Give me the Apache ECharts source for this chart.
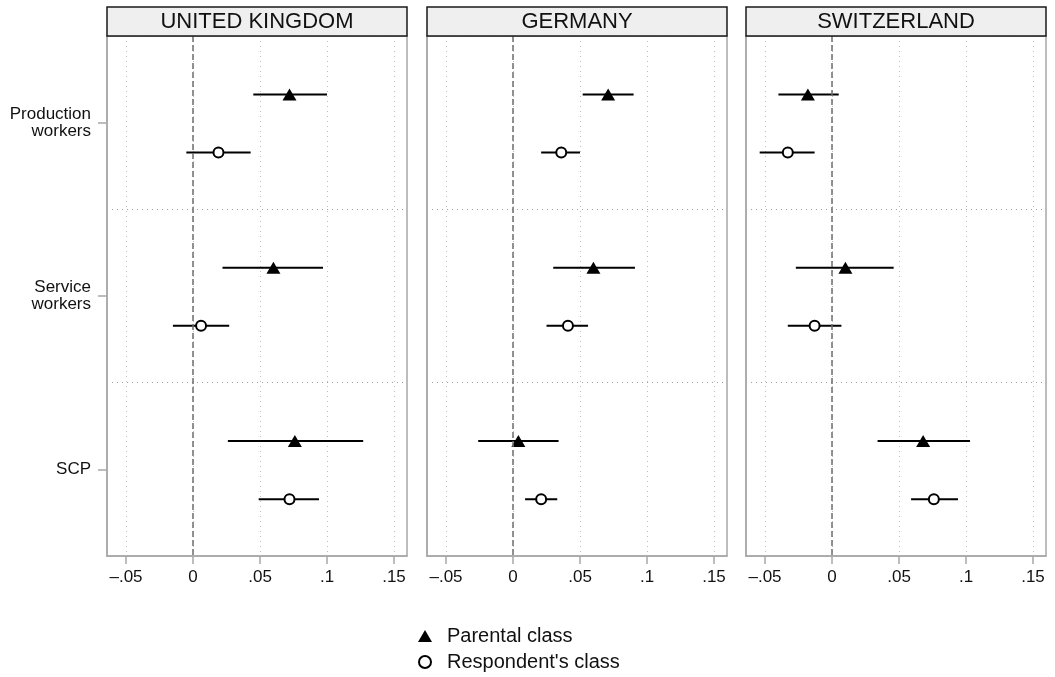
<!DOCTYPE html>
<html>
<head>
<meta charset="utf-8">
<script src="https://cdn.jsdelivr.net/npm/echarts@6/dist/echarts.min.js"></script>
<style>
html,body{margin:0;padding:0;background:#fff;}
#chart{width:1055px;height:677px;}
</style>
</head>
<body>
<div id="chart"></div>
<script>
// ---- data ----
const categories = ['Production\nworkers', 'Service\nworkers', 'SCP'];
const countries = ['UNITED KINGDOM', 'GERMANY', 'SWITZERLAND'];
const xTicks = [-0.05, 0, 0.05, 0.1, 0.15];
const xTickLabels = ['\u2013.05', '0', '.05', '.1', '.15'];
const legendNames = ['Parental class', "Respondent's class"];

const ukParental     = [0.072, 0.060, 0.076];
const ukParentalLo   = [0.045, 0.022, 0.026];
const ukParentalHi   = [0.100, 0.097, 0.127];
const ukRespondent   = [0.019, 0.006, 0.072];
const ukRespondentLo = [-0.005, -0.015, 0.049];
const ukRespondentHi = [0.043, 0.027, 0.094];

const deParental     = [0.071, 0.060, 0.004];
const deParentalLo   = [0.052, 0.030, -0.026];
const deParentalHi   = [0.090, 0.091, 0.034];
const deRespondent   = [0.036, 0.041, 0.021];
const deRespondentLo = [0.021, 0.025, 0.009];
const deRespondentHi = [0.050, 0.056, 0.033];

const chParental     = [-0.018, 0.010, 0.068];
const chParentalLo   = [-0.040, -0.027, 0.034];
const chParentalHi   = [0.005, 0.046, 0.103];
const chRespondent   = [-0.033, -0.013, 0.076];
const chRespondentLo = [-0.054, -0.033, 0.059];
const chRespondentHi = [-0.013, 0.007, 0.094];

const panels = [
  {p: ukParental, pLo: ukParentalLo, pHi: ukParentalHi, r: ukRespondent, rLo: ukRespondentLo, rHi: ukRespondentHi},
  {p: deParental, pLo: deParentalLo, pHi: deParentalHi, r: deRespondent, rLo: deRespondentLo, rHi: deRespondentHi},
  {p: chParental, pLo: chParentalLo, pHi: chParentalHi, r: chRespondent, rLo: chRespondentLo, rHi: chRespondentHi}
];

// ---- layout ----
const FONT = '"Liberation Sans", Arial, Helvetica, sans-serif';
const gridLefts = [107, 427, 746];
const gridWidth = 300, gridTop = 36, gridHeight = 520;
const xMin = -0.0642, xMax = 0.1597;
const offParental = -0.163, offRespondent = 0.172;
const grey = '#a8a8a8';

const grid = [], xAxis = [], yAxis = [], series = [], graphic = [];

gridLefts.forEach((left, g) => {
  grid.push({left: left, width: gridWidth, top: gridTop, height: gridHeight,
    show: true, borderColor: grey, borderWidth: 1.5, backgroundColor: '#fff'});

  xAxis.push({
    type: 'value', gridIndex: g, min: xMin, max: xMax,
    axisLine: {show: true, onZero: false, lineStyle: {color: grey, width: 1.5}},
    axisTick: {show: true, length: 8, customValues: xTicks, lineStyle: {color: grey, width: 1.5}},
    axisLabel: {customValues: xTicks, fontSize: 17, color: '#111', fontFamily: FONT, margin: 13,
      formatter: function (v) {
        let best = 0, bd = Infinity;
        xTicks.forEach((t, i) => { const d = Math.abs(t - v); if (d < bd) { bd = d; best = i; } });
        return bd < 1e-6 ? xTickLabels[best] : '';
      }},
    splitLine: {show: true, lineStyle: {type: [1, 4], color: '#bdbdbd', width: 1}}
  });

  yAxis.push({
    type: 'category', gridIndex: g, data: categories, inverse: true,
    axisLine: {show: true, onZero: false, lineStyle: {color: grey, width: 1.5}},
    axisTick: {show: g === 0, alignWithLabel: true, length: 9, lineStyle: {color: grey, width: 1.5}},
    axisLabel: {show: g === 0, fontSize: 17, lineHeight: 17, color: '#111', fontFamily: FONT, margin: 16},
    splitLine: {show: true, lineStyle: {type: [1, 4], color: '#a0a0a0', width: 1}}
  });
  yAxis.push({type: 'value', gridIndex: g, min: 0, max: 3, inverse: true, show: false});

  const d = panels[g];
  const yIdx = 2 * g + 1;

  // zero reference line
  series.push({
    type: 'scatter', xAxisIndex: g, yAxisIndex: yIdx, data: [], z: 1, silent: true,
    markLine: {silent: true, symbol: ['none', 'none'], label: {show: false},
      lineStyle: {type: [6, 3], color: '#6e6e6e', width: 1.5},
      data: [{xAxis: 0}]}
  });

  // error bars
  const bars = [];
  categories.forEach((c, i) => {
    bars.push([d.pLo[i], d.pHi[i], i + 0.5 + offParental]);
    bars.push([d.rLo[i], d.rHi[i], i + 0.5 + offRespondent]);
  });
  series.push({
    type: 'custom', xAxisIndex: g, yAxisIndex: yIdx, z: 2, silent: true,
    data: bars, encode: {x: [0, 1], y: 2},
    renderItem: function (params, api) {
      const a = api.coord([api.value(0), api.value(2)]);
      const b = api.coord([api.value(1), api.value(2)]);
      return {type: 'line', shape: {x1: a[0], y1: a[1], x2: b[0], y2: b[1]},
        style: {stroke: '#000', lineWidth: 2}};
    }
  });

  series.push({
    name: legendNames[0], type: 'scatter', xAxisIndex: g, yAxisIndex: yIdx, z: 3,
    symbol: 'triangle', symbolSize: [14, 12],
    itemStyle: {color: '#000', opacity: 1},
    data: d.p.map((v, i) => [v, i + 0.5 + offParental])
  });
  series.push({
    name: legendNames[1], type: 'scatter', xAxisIndex: g, yAxisIndex: yIdx, z: 3,
    symbol: 'circle', symbolSize: 10,
    itemStyle: {color: '#fff', borderColor: '#000', borderWidth: 2, opacity: 1},
    data: d.r.map((v, i) => [v, i + 0.5 + offRespondent])
  });

  graphic.push({
    type: 'group', z: 100,
    children: [
      {type: 'rect', z: 100, shape: {x: left, y: 7, width: gridWidth, height: 29},
        style: {fill: '#efefef', stroke: '#1a1a1a', lineWidth: 1.5}},
      {type: 'text', z: 101, x: left + gridWidth / 2, y: 22,
        style: {text: countries[g], fill: '#111', font: '22px ' + FONT, align: 'center', verticalAlign: 'middle'}}
    ]
  });
});

const legendBase = {
  orient: 'vertical', left: 413, itemWidth: 14, itemHeight: 12,
  selectedMode: false,
  textStyle: {fontSize: 20, lineHeight: 20, color: '#111', fontFamily: FONT, padding: [0, 0, 0, 10]}
};

const chart = echarts.init(document.getElementById('chart'), null, {renderer: 'canvas'});
chart.setOption({
  animation: false,
  backgroundColor: '#fff',
  textStyle: {fontFamily: FONT},
  grid: grid, xAxis: xAxis, yAxis: yAxis, series: series, graphic: graphic,
  legend: [
    Object.assign({}, legendBase, {top: 621, data: [legendNames[0]]}),
    Object.assign({}, legendBase, {top: 647, data: [legendNames[1]]})
  ]
});
</script>
</body>
</html>
